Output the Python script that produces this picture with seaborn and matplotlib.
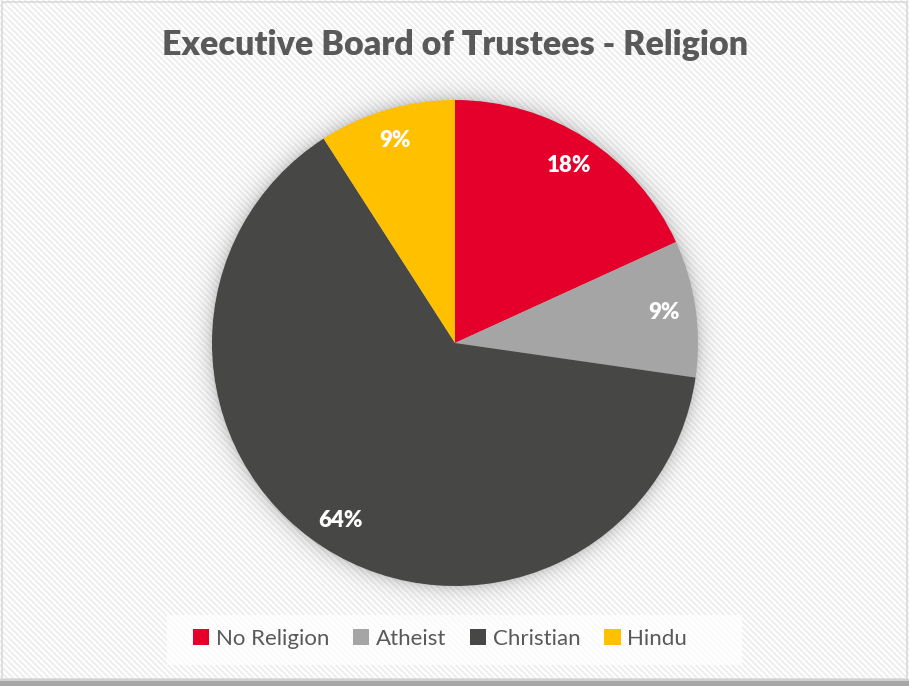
import numpy as np
import matplotlib
matplotlib.use("Agg")
import matplotlib.pyplot as plt
from matplotlib.patches import Rectangle
import seaborn as sns

sns.set_theme(style="white")
plt.rcParams["font.family"] = ["Lato", "DejaVu Sans"]

# Trustee counts by religion
categories = ["No Religion", "Atheist", "Christian", "Hindu"]
counts = [2, 1, 7, 1]
colors = ["#E4002B", "#A5A5A5", "#474746", "#FFC000"]
title = "Executive Board of Trustees - Religion"

W, H, DPI = 909, 686, 100
fig = plt.figure(figsize=(W / DPI, H / DPI), dpi=DPI)

# striped backdrop over the whole figure
bg = fig.add_axes([0, 0, 1, 1])
yy, xx = np.mgrid[0:H, 0:W]
stripes = ((xx - yy) % 6) < 3
img = np.where(stripes[..., None], np.array([0.94, 0.94, 0.94]), np.array([1.0, 1.0, 1.0]))
bg.imshow(img, extent=(0, W, H, 0), interpolation="nearest", aspect="auto")
bg.set_xlim(0, W)
bg.set_ylim(H, 0)
bg.axis("off")

# frame of the chart area
bg.add_patch(Rectangle((2, 2), 905, 677, fill=False, edgecolor="#D9D9D9", lw=1.2))
bg.add_patch(Rectangle((0, 680), W, 6, facecolor="#A6A6A6", edgecolor="none"))
bg.add_patch(Rectangle((0, 679), W, 1.5, facecolor="#D0D0D0", edgecolor="none"))

# legend panel
bg.add_patch(Rectangle((167, 615), 575, 50, facecolor="white", alpha=0.75, edgecolor="none"))

# pie axes: radius 243 px centred at (455, 343)
cx, cy, R = 455, 343, 243
half = 300
ax = fig.add_axes([(cx - half) / W, (H - cy - half) / H, 2 * half / W, 2 * half / H])
lim = half / R
ax.axis("off")

# soft shadow ring around the pie
g = np.linspace(-lim, lim, 600)
gx, gy = np.meshgrid(g, g)
rr = np.hypot(gx, gy)
shadow = np.zeros((600, 600, 4))
shadow[..., :3] = 0.5
a = np.where(rr > 0.99, 0.5 * np.exp(-np.clip(rr - 0.99, 0, None) / 0.035), 0.5)
shadow[..., 3] = a
ax.imshow(shadow, extent=(-lim, lim, -lim, lim), origin="lower", zorder=0, interpolation="bilinear")

wedges, texts, autotexts = ax.pie(
    counts,
    colors=colors,
    startangle=90,
    counterclock=False,
    radius=1.0,
    autopct=lambda p: f"{p:.0f}%",
    pctdistance=0.87,
    wedgeprops=dict(linewidth=0, edgecolor="none"),
    textprops=dict(color="white", fontsize=16, fontweight="heavy"),
)
for w in wedges:
    w.set_zorder(2)
for t in autotexts:
    t.set_zorder(3)
ax.set_xlim(-lim, lim)
ax.set_ylim(-lim, lim)
ax.set_aspect("equal")

fig.text(455 / W, 1 - 45 / H, title, ha="center", va="center",
         fontsize=24.5, fontweight="heavy", color="#595959")

leg = fig.legend(wedges, categories, loc="center", bbox_to_anchor=(440 / W, 1 - 639 / H),
                 ncol=4, frameon=False, fontsize=16, handlelength=0.75, handleheight=0.75,
                 handletextpad=0.3, columnspacing=1.05, labelcolor="#595959")

fig.savefig("out.png", dpi=DPI)
